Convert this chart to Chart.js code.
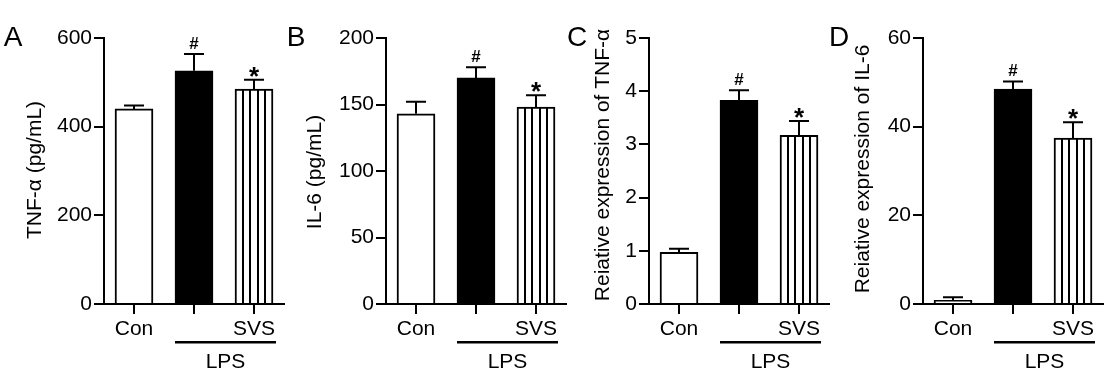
<!DOCTYPE html>
<html><head><meta charset="utf-8">
<script src="https://cdn.jsdelivr.net/npm/chart.js@4.4.1/dist/chart.umd.min.js"></script>
<style>
html,body{margin:0;padding:0;background:#fff;width:1107px;height:392px;overflow:hidden}
canvas{position:absolute;left:0;top:0}
</style></head><body>
<canvas id="c0" width="1107" height="392"></canvas>
<canvas id="c1" width="1107" height="392"></canvas>
<canvas id="c2" width="1107" height="392"></canvas>
<canvas id="c3" width="1107" height="392"></canvas>
<script>
// ---- data ----
const categories = ['Con', 'LPS', 'SVS'];
const tickLabels = ['Con', '', 'SVS'];
const groupLabel = 'LPS';
const markers = ['', '#', '*'];
const panelLetters = ['A', 'B', 'C', 'D'];
const yTitles = ['TNF-α (pg/mL)', 'IL-6 (pg/mL)', 'Reiative expression of TNF-α', 'Reiative expression of IL-6'];
const tnfProtein = [440, 526, 485];
const tnfProteinSem = [8, 38, 21];
const il6Protein = [143, 170, 148];
const il6ProteinSem = [9, 8, 9];
const tnfRelative = [0.97, 3.83, 3.17];
const tnfRelativeSem = [0.07, 0.19, 0.27];
const il6Relative = [0.8, 48.5, 37.4];
const il6RelativeSem = [0.7, 1.7, 3.6];
const yMax = [600, 200, 5, 60];
const yStep = [200, 50, 1, 20];

// ---- layout ----
const FONT = "'Liberation Sans', Arial, Helvetica, sans-serif";
const axisX = [104, 386, 649, 923];
const titleX = [35, 315, 603, 863];
const titleY = [170, 172, 165, 169];
const letterX = [13, 296, 577, 839];
const AREA_W = 180, TOP = 38, BOTTOM = 304, YW = 60, XH = 40;

const seriesVals = [tnfProtein, il6Protein, tnfRelative, il6Relative];
const seriesSems = [tnfProteinSem, il6ProteinSem, tnfRelativeSem, il6RelativeSem];

function makePanel(i) {
  const vals = seriesVals[i], sems = seriesSems[i];
  const deco = {
    id: 'deco' + i,
    afterDatasetsDraw(chart) {
      const ctx = chart.ctx;
      const meta = chart.getDatasetMeta(0);
      const ys = chart.scales.y;
      ctx.save();
      ctx.strokeStyle = '#000';
      ctx.fillStyle = '#000';
      meta.data.forEach((bar, j) => {
        const p = bar.getProps(['x', 'y', 'base', 'width'], true);
        if (j === 2) {
          ctx.lineWidth = 2;
          for (let k = 1; k <= 4; k++) {
            const sx = Math.round(p.x - p.width / 2 + p.width * k / 5);
            ctx.beginPath();
            ctx.moveTo(sx, p.y);
            ctx.lineTo(sx, p.base);
            ctx.stroke();
          }
        }
        const top = ys.getPixelForValue(vals[j] + sems[j]);
        const cx = Math.round(p.x);
        ctx.lineWidth = 2;
        ctx.beginPath();
        ctx.moveTo(cx, p.y);
        ctx.lineTo(cx, top);
        ctx.moveTo(cx - 10, top);
        ctx.lineTo(cx + 10, top);
        ctx.stroke();
        const m = markers[j];
        if (m === '#') {
          ctx.font = 'bold 17px ' + FONT;
          ctx.textAlign = 'center';
          ctx.textBaseline = 'alphabetic';
          ctx.fillText(m, cx, top - 11 + 6);
        } else if (m === '*') {
          ctx.font = 'bold 26px ' + FONT;
          ctx.textAlign = 'center';
          ctx.textBaseline = 'alphabetic';
          ctx.fillText(m, cx, top - 10 + 15);
        }
      });
      // group line and label
      const c2 = meta.data[1].x, c3 = meta.data[2].x;
      const lx0 = c2 - 19, lx1 = c3 + 22;
      ctx.fillRect(lx0, 341, lx1 - lx0, 2.5);
      ctx.font = '21px ' + FONT;
      ctx.textAlign = 'center';
      ctx.textBaseline = 'alphabetic';
      ctx.fillText(groupLabel, (lx0 + lx1) / 2, 367.5);
      // y title
      ctx.save();
      ctx.translate(titleX[i], titleY[i]);
      ctx.rotate(-Math.PI / 2);
      ctx.textBaseline = 'middle';
      ctx.fillText(yTitles[i], 0, 0);
      ctx.restore();
      // panel letter
      ctx.font = '28px ' + FONT;
      ctx.textAlign = 'center';
      ctx.fillText(panelLetters[i], letterX[i], 46);
      ctx.restore();
    }
  };
  new Chart(document.getElementById('c' + i), {
    type: 'bar',
    data: {
      labels: categories,
      datasets: [{
        data: vals,
        backgroundColor: ['#ffffff', '#000000', '#ffffff'],
        borderColor: '#000000',
        borderWidth: 2,
        barThickness: 38
      }]
    },
    options: {
      responsive: false,
      animation: false,
      devicePixelRatio: 1,
      events: [],
      layout: {
        padding: {
          left: axisX[i] - YW,
          right: 1107 - (axisX[i] + AREA_W),
          top: TOP,
          bottom: 392 - BOTTOM - XH
        }
      },
      plugins: { legend: { display: false }, tooltip: { enabled: false }, title: { display: false } },
      scales: {
        x: {
          type: 'category',
          offset: true,
          grid: { display: true, offset: false, drawOnChartArea: false, drawTicks: true, tickLength: 10, color: '#000', lineWidth: 2 },
          border: { display: true, color: '#000', width: 2 },
          ticks: {
            color: '#000', font: { family: FONT, size: 21 }, padding: 3,
            maxRotation: 0, autoSkip: false,
            callback: (v, idx) => tickLabels[idx]
          },
          afterFit: s => { s.height = XH; }
        },
        y: {
          min: 0, max: yMax[i],
          grid: { display: true, drawOnChartArea: false, drawTicks: true, tickLength: 10, color: '#000', lineWidth: 2 },
          border: { display: true, color: '#000', width: 2 },
          ticks: { stepSize: yStep[i], color: '#000', font: { family: FONT, size: 21 }, padding: 2 },
          afterFit: s => { s.width = YW; }
        }
      }
    },
    plugins: [deco]
  });
}
for (let i = 0; i < 4; i++) makePanel(i);
</script>
</body></html>
